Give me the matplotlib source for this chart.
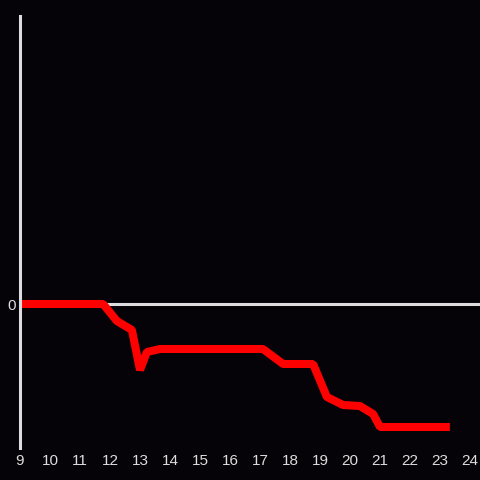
import matplotlib.pyplot as plt

# hours of the day and the value at each point
hours = [9.0, 11.77, 12.23, 12.73, 13.0, 13.23, 13.67, 17.1, 17.77,
         18.77, 19.23, 19.77, 20.33, 20.77, 21.0, 23.33]
values = [0, 0, -17, -26, -66, -48, -45, -45, -60,
          -60, -93, -101, -102, -110, -123, -123]
hour_ticks = list(range(9, 25))

bg = '#050307'
fg = '#dddddd'

fig = plt.figure(figsize=(4.8, 4.8), dpi=100, facecolor=bg)
ax = fig.add_axes([20 / 480, 32 / 480, 460 / 480, 432 / 480], facecolor=bg)

ax.axhline(0, color=fg, lw=2.2, zorder=1)
ax.plot(hours, values, color='#ff0000', lw=5.8, solid_joinstyle='bevel',
        solid_capstyle='butt', zorder=2)

ax.set_xlim(9, 9 + 460 / 30)
ax.set_ylim(-144, 288)
ax.set_xticks(hour_ticks)
ax.set_yticks([0])
ax.tick_params(length=0, colors=fg, labelsize=11, pad=4.5)
ax.tick_params(axis='y', pad=3)
for lab in ax.get_xticklabels() + ax.get_yticklabels():
    lab.set_family('Liberation Sans')

for side in ['top', 'right', 'bottom']:
    ax.spines[side].set_visible(False)
ax.spines['left'].set_color(fg)
ax.spines['left'].set_linewidth(2.2)

fig.savefig('out.png', facecolor=bg)
